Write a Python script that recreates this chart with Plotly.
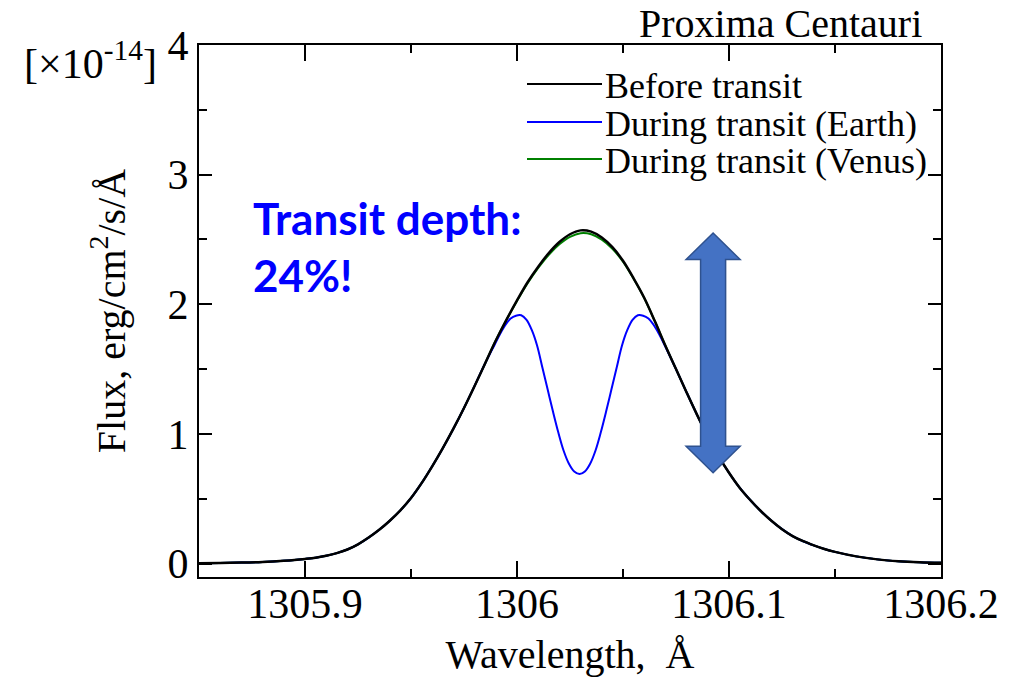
import plotly.graph_objects as go

# ---------------- data ----------------
wl_before = [1305.85, 1305.86, 1305.87, 1305.88, 1305.89, 1305.895, 1305.90, 1305.905,
             1305.91, 1305.915, 1305.92, 1305.925, 1305.93, 1305.935, 1305.94, 1305.945,
             1305.95, 1305.955, 1305.96, 1305.965, 1305.97, 1305.975, 1305.98, 1305.985,
             1305.99, 1305.995, 1306.00, 1306.005, 1306.01, 1306.015, 1306.02, 1306.025,
             1306.03, 1306.035, 1306.04, 1306.045, 1306.05, 1306.055, 1306.06, 1306.065,
             1306.07, 1306.075, 1306.08, 1306.085, 1306.09, 1306.095, 1306.10, 1306.105,
             1306.11, 1306.115, 1306.12, 1306.125, 1306.13, 1306.135, 1306.14, 1306.145,
             1306.15, 1306.16, 1306.17, 1306.18, 1306.19, 1306.20]
flux_before = [0.002, 0.004, 0.007, 0.012, 0.021, 0.027, 0.035, 0.045,
               0.060, 0.080, 0.108, 0.148, 0.200, 0.260, 0.330, 0.410,
               0.505, 0.620, 0.750, 0.890, 1.040, 1.200, 1.370, 1.545,
               1.720, 1.880, 2.030, 2.170, 2.290, 2.395, 2.480, 2.540,
               2.570, 2.560, 2.515, 2.440, 2.335, 2.200, 2.050, 1.870,
               1.680, 1.500, 1.320, 1.145, 0.980, 0.830, 0.700, 0.585,
               0.490, 0.405, 0.330, 0.265, 0.212, 0.172, 0.140, 0.112,
               0.090, 0.055, 0.032, 0.018, 0.010, 0.005]
flux_venus = [0.002, 0.004, 0.007, 0.012, 0.021, 0.027, 0.035, 0.045,
              0.060, 0.080, 0.108, 0.148, 0.200, 0.260, 0.330, 0.410,
              0.505, 0.620, 0.750, 0.890, 1.040, 1.200, 1.370, 1.545,
              1.720, 1.878, 2.025, 2.162, 2.280, 2.382, 2.463, 2.520,
              2.548, 2.540, 2.498, 2.428, 2.328, 2.196, 2.048, 1.870,
              1.680, 1.500, 1.320, 1.145, 0.980, 0.830, 0.700, 0.585,
              0.490, 0.405, 0.330, 0.265, 0.212, 0.172, 0.140, 0.112,
              0.090, 0.055, 0.032, 0.018, 0.010, 0.005]

wl_earth = [1305.85, 1305.86, 1305.87, 1305.88, 1305.89, 1305.895, 1305.90, 1305.905,
            1305.91, 1305.915, 1305.92, 1305.925, 1305.93, 1305.935, 1305.94, 1305.945,
            1305.95, 1305.955, 1305.96, 1305.965, 1305.97, 1305.975, 1305.98, 1305.985,
            1305.9895, 1305.992, 1305.9945, 1305.997, 1305.9995, 1306.002, 1306.0045,
            1306.007, 1306.0095, 1306.012, 1306.0145, 1306.017, 1306.0195, 1306.022,
            1306.0245, 1306.027, 1306.0295, 1306.032, 1306.0345, 1306.037, 1306.0395,
            1306.042, 1306.0445, 1306.047, 1306.0495, 1306.052, 1306.0545, 1306.057,
            1306.0595, 1306.062, 1306.0645, 1306.067, 1306.0695, 1306.075, 1306.08,
            1306.085, 1306.09, 1306.095, 1306.10, 1306.105, 1306.11, 1306.115, 1306.12,
            1306.125, 1306.13, 1306.135, 1306.14, 1306.145, 1306.15, 1306.16, 1306.17,
            1306.18, 1306.19, 1306.20]
flux_earth = [0.002, 0.004, 0.007, 0.012, 0.021, 0.027, 0.035, 0.045,
              0.060, 0.080, 0.108, 0.148, 0.200, 0.260, 0.330, 0.410,
              0.505, 0.620, 0.750, 0.890, 1.040, 1.200, 1.370, 1.545,
              1.690, 1.770, 1.840, 1.890, 1.912, 1.915, 1.880,
              1.800, 1.680, 1.510, 1.340, 1.170, 1.010, 0.870,
              0.770, 0.710, 0.690, 0.710, 0.770, 0.870, 1.010,
              1.170, 1.340, 1.510, 1.680, 1.800, 1.880, 1.915,
              1.912, 1.890, 1.840, 1.770, 1.690, 1.500, 1.320,
              1.145, 0.980, 0.830, 0.700, 0.585, 0.490, 0.405, 0.330,
              0.265, 0.212, 0.172, 0.140, 0.112, 0.090, 0.055, 0.032,
              0.018, 0.010, 0.005]

series_names = ["Before transit", "During transit (Earth)", "During transit (Venus)"]
series_colors = ["#000000", "#0000FF", "#008000"]

x_ticks = [1305.9, 1306.0, 1306.1, 1306.2]
x_ticklabels = ["1305.9", "1306", "1306.1", "1306.2"]
y_ticks = [0, 1, 2, 3, 4]

# transit-depth arrow spans from the line peak down to the Earth-transit minimum
arrow_x = 1306.0925
arrow_top = 2.55
arrow_bottom = 0.70

SERIF = "Liberation Serif, Times New Roman, serif"
SANS = "Lato, Open Sans, sans-serif"

fig = go.Figure()
fig.add_trace(go.Scatter(x=wl_before, y=flux_venus, mode="lines", name=series_names[2],
                         line=dict(color=series_colors[2], width=2, shape="spline", smoothing=1),
                         showlegend=False))
fig.add_trace(go.Scatter(x=wl_earth, y=flux_earth, mode="lines", name=series_names[1],
                         line=dict(color=series_colors[1], width=2, shape="spline", smoothing=1),
                         showlegend=False))
fig.add_trace(go.Scatter(x=wl_before, y=flux_before, mode="lines", name=series_names[0],
                         line=dict(color=series_colors[0], width=2.5, shape="spline", smoothing=1),
                         showlegend=False))

W, H = 1016, 684
L, R, T, B = 199, 75, 45, 107
pw, ph = W - L - R, H - T - B

def px(xp):
    return (xp - L) / pw

def py(yp):
    return (H - B - yp) / ph

# custom legend (long line samples)
legend_rows = [84, 122, 159]
shapes = []
annotations = []
for name, col, yr in zip(series_names, series_colors, legend_rows):
    shapes.append(dict(type="line", xref="paper", yref="paper",
                       x0=px(527), x1=px(602), y0=py(yr), y1=py(yr),
                       line=dict(color=col, width=2)))
    annotations.append(dict(xref="paper", yref="paper", x=px(603), y=py(yr + 2),
                            xanchor="left", yanchor="middle", showarrow=False,
                            text=name, font=dict(family=SERIF, size=36, color="black")))

# double-headed arrow (data coords)
hw = 0.01274   # head half width
sw = 0.0059    # shaft half width
hh = 0.205     # head height in flux units
path = (f"M {arrow_x},{arrow_top} L {arrow_x + hw},{arrow_top - hh} L {arrow_x + sw},{arrow_top - hh} "
        f"L {arrow_x + sw},{arrow_bottom + hh} L {arrow_x + hw},{arrow_bottom + hh} L {arrow_x},{arrow_bottom} "
        f"L {arrow_x - hw},{arrow_bottom + hh} L {arrow_x - sw},{arrow_bottom + hh} L {arrow_x - sw},{arrow_top - hh} "
        f"L {arrow_x - hw},{arrow_top - hh} Z")
shapes.append(dict(type="path", xref="x", yref="y", path=path,
                   fillcolor="#4472C4", line=dict(color="#2F528F", width=1.5), layer="above"))

# texts
annotations.append(dict(xref="paper", yref="paper", x=px(251), y=py(218), xanchor="left", yanchor="middle",
                        showarrow=False, text="<b>Transit depth:</b>",
                        font=dict(family=SANS, size=44, color="#0000FF")))
annotations.append(dict(xref="paper", yref="paper", x=px(251), y=py(275), xanchor="left", yanchor="middle",
                        showarrow=False, text="<b>24%!</b>",
                        font=dict(family=SANS, size=44, color="#0000FF")))
annotations.append(dict(xref="paper", yref="paper", x=px(924), y=py(23), xanchor="right", yanchor="middle",
                        showarrow=False, text="Proxima Centauri",
                        font=dict(family=SERIF, size=40, color="black")))
annotations.append(dict(xref="paper", yref="paper", x=px(159), y=py(60), xanchor="right", yanchor="middle",
                        showarrow=False, text="[×10<sup>-14</sup>]",
                        font=dict(family=SERIF, size=42, color="black")))

fig.update_layout(
    width=W, height=H,
    margin=dict(l=L, r=R, t=T, b=B, pad=0),
    paper_bgcolor="white", plot_bgcolor="white",
    shapes=shapes, annotations=annotations,
    showlegend=False,
)
fig.update_xaxes(
    range=[1305.85, 1306.2], tickvals=x_ticks, ticktext=x_ticklabels,
    ticks="inside", ticklen=16, tickwidth=2, tickcolor="black",
    minor=dict(ticks="inside", ticklen=8, tickwidth=2, tickcolor="black", dtick=0.05, tick0=1305.85),
    showline=True, linewidth=2, linecolor="black", mirror="allticks",
    showgrid=False, zeroline=False, ticklabelstandoff=-11,
    tickfont=dict(family=SERIF, size=42, color="black"),
    title=dict(text="Wavelength,  Å", font=dict(family=SERIF, size=40, color="black"), standoff=14),
)
fig.update_yaxes(
    range=[-0.104, 4], tickvals=y_ticks,
    ticks="inside", ticklen=13, tickwidth=2, tickcolor="black",
    minor=dict(ticks="inside", ticklen=8, tickwidth=2, tickcolor="black", dtick=0.5, tick0=0),
    showline=True, linewidth=2, linecolor="black", mirror="allticks",
    showgrid=False, zeroline=False,
    tickfont=dict(family=SERIF, size=42, color="black"),
    title=dict(text="Flux, erg/cm<sup>2</sup>/s/Å", font=dict(family=SERIF, size=40, color="black"), standoff=30),
)

fig.write_html("out.html")
